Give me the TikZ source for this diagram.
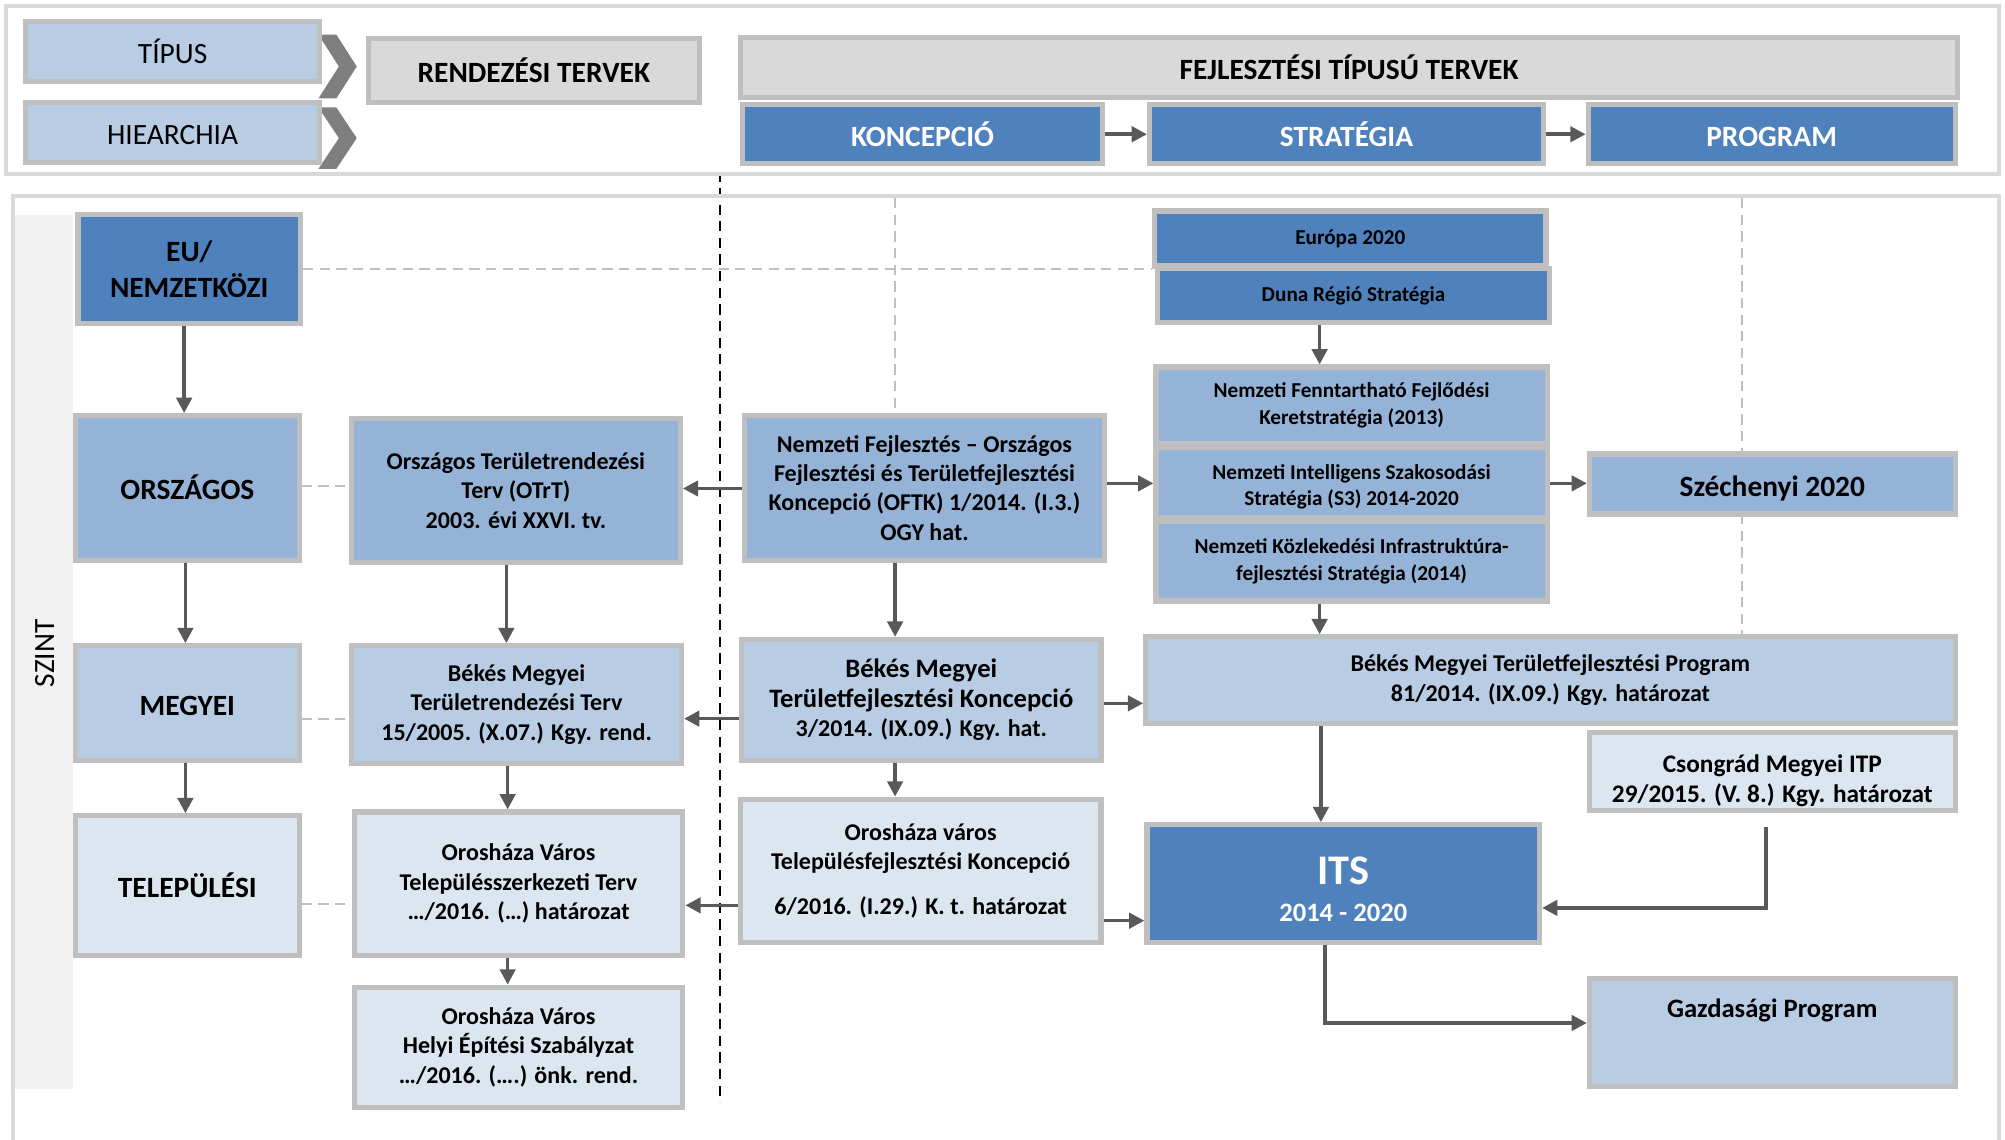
\documentclass[tikz,border=0pt]{standalone}
\usepackage{fontspec}
\setmainfont{Carlito}
\usetikzlibrary{arrows.meta}
\definecolor{dblue}{HTML}{4F81BD}
\definecolor{mblue}{HTML}{95B3D7}
\definecolor{lblue}{HTML}{B8CCE4}
\definecolor{xblue}{HTML}{DCE6F1}
\definecolor{lgray}{HTML}{D9D9D9}
\definecolor{bgray}{HTML}{BFBFBF}
\definecolor{agray}{HTML}{595959}
\definecolor{chev}{HTML}{7F7F7F}
\definecolor{strip}{HTML}{F2F2F2}
\newcommand\fszA{\fontsize{11.5}{14}\selectfont}
\newcommand\fszB{\fontsize{9.4}{11.5}\selectfont}
\newcommand\fszC{\fontsize{8.3}{10.5}\selectfont}
\newcommand\fszD{\fontsize{10.4}{12.5}\selectfont}
\newcommand\fszE{\fontsize{9.9}{12}\selectfont}
\newcommand\fszITS{\fontsize{16.5}{18}\selectfont}
\newcommand\mkbox[7]{\node[#2, minimum width={(#5-#3)*0.5pt}, minimum height={(#6-#4)*0.5pt}] (#1) at ({(#3+#5)/2},{(#4+#6)/2}) {#7};}
\pgfdeclarelayer{bg}
\pgfsetlayers{bg,main}
\begin{document}
\begin{tikzpicture}[x=0.5pt,y=-0.5pt,
  bx/.style={draw=bgray, line width=2pt, inner sep=1pt, align=center, text=black},
  hdr/.style={bx, font=\fszA, text height=9.5pt, text depth=0pt},
  hdrb/.style={bx, font=\bfseries\fszA, text height=9.5pt, text depth=0pt},
  lvl/.style={bx, font=\bfseries\fszA},
  lvlone/.style={bx, font=\bfseries\fszA, text height=9.5pt, text depth=0pt},
  txt/.style={bx, font=\bfseries\fszB},
  stx/.style={bx, font=\bfseries\fszC},
  arr/.style={draw=agray, line width=1.4pt, -{Triangle[length=6pt,width=6pt]}},
  dsh/.style={draw=bgray, line width=0.8pt, dash pattern=on 4pt off 2.5pt},
  frame/.style={draw=lgray, line width=1.5pt}]
\useasboundingbox (0,0) rectangle (1568,891);
% helper coordinates
\coordinate (c144) at (144,0);
\coordinate (c145) at (145,0);
\coordinate (c396) at (396,0);
\coordinate (c397) at (397,0);
\coordinate (c700) at (700,0);
\coordinate (c1032) at (1032,0);
\coordinate (c1033) at (1033,0);
\coordinate (c1036) at (1036,0);
\coordinate (c1362) at (1362,0);
\coordinate (c1381) at (1381,0);
\coordinate (r155) at (0,155);
\coordinate (r378) at (0,378);
\coordinate (r380) at (0,380);
\coordinate (r382) at (0,382);
\coordinate (r550) at (0,550);
\coordinate (r562) at (0,562);
\coordinate (r707) at (0,707);
\coordinate (r708) at (0,708);
\coordinate (r710) at (0,710);
\coordinate (r720) at (0,720);
\coordinate (r800) at (0,800);
% frames
\draw[frame, fill=white] (5,5) rectangle (1563,136);
\draw[frame] (10,900) -- (10,153) -- (1563,153) -- (1563,900);
\fill[strip] (12,168) rectangle (57,852);
\node[rotate=90, font=\fszA] (szint) at (35,511) {SZINT};
% chevrons
\fill[chev] (249,27) -- (263,27) -- (279,52) -- (263,77) -- (249,77) -- (265,52) -- cycle;
\fill[chev] (249,84) -- (263,84) -- (279,108) -- (263,132) -- (249,132) -- (265,108) -- cycle;
% header boxes
\mkbox{tipus}{hdr,fill=lblue}{20}{17}{250}{64}{TÍPUS}
\mkbox{hier}{hdr,fill=lblue}{20}{80}{250}{127}{HIEARCHIA}
\mkbox{rend}{hdrb,fill=lgray}{288}{30}{547}{80}{RENDEZÉSI TERVEK}
\mkbox{fejl}{hdrb,fill=lgray}{579}{29}{1531}{76}{FEJLESZTÉSI TÍPUSÚ TERVEK}
\mkbox{kon}{hdrb,fill=dblue,text=white}{581}{82}{862}{128}{KONCEPCIÓ}
\mkbox{str}{hdrb,fill=dblue,text=white}{899}{82}{1207}{128}{STRATÉGIA}
\mkbox{prog}{hdrb,fill=dblue,text=white}{1242}{82}{1529}{128}{PROGRAM}
% levels
\mkbox{eu}{lvl,fill=dblue}{61}{168}{235}{253}{EU/\\NEMZETKÖZI}
\mkbox{orsz}{lvlone,fill=mblue}{59}{325}{234}{438}{ORSZÁGOS}
\mkbox{meg}{lvlone,fill=lblue}{59}{505}{234}{595}{MEGYEI}
\mkbox{tel}{lvlone,fill=xblue}{59}{638}{234}{747}{TELEPÜLÉSI}
% rendezesi
\mkbox{otrt}{txt,fill=mblue}{275}{327}{532}{440}{Országos Területrendezési\\Terv (OTrT)\\2003. évi XXVI. tv.}
\mkbox{bmtt}{txt,fill=lblue}{275}{505}{533}{597}{Békés Megyei\\Területrendezési Terv\\15/2005. (X.07.) Kgy. rend.}
\mkbox{otsz}{txt,fill=xblue}{277}{635}{534}{747}{Orosháza Város\\Településszerkezeti Terv\\…/2016. (…) határozat}
\mkbox{hesz}{txt,fill=xblue}{277}{772}{534}{866}{Orosháza Város\\Helyi Építési Szabályzat\\…/2016. (….) önk. rend.}
% fejlesztesi
\mkbox{oftk}{txt,fill=mblue}{582}{325}{864}{438}{Nemzeti Fejlesztés – Országos\\Fejlesztési és Területfejlesztési\\Koncepció (OFTK) 1/2014. (I.3.)\\OGY hat.}
\mkbox{bmtk}{txt,fill=lblue}{580}{500}{861}{595}{\fszD Békés Megyei\\\fszD Területfejlesztési Koncepció\\\fszB 3/2014. (IX.09.) Kgy. hat.}
\mkbox{otfk}{txt,fill=xblue}{579}{625}{861}{737}{Orosháza város\\Településfejlesztési Koncepció\\[6pt]6/2016. (I.29.) K. t. határozat}
% strategia
\mkbox{eur}{stx,fill=dblue}{903}{165}{1209}{208}{Európa 2020}
\mkbox{duna}{stx,fill=dblue}{905}{210}{1212}{252}{Duna Régió Stratégia}
\mkbox{nffk}{stx,fill=mblue}{904}{287}{1210}{347}{Nemzeti Fenntartható Fejlődési\\Keretstratégia (2013)}
\mkbox{nis}{stx,fill=mblue}{904}{350}{1210}{405}{\rule{0pt}{9pt}Nemzeti Intelligens Szakosodási\\Stratégia (S3) 2014-2020}
\mkbox{nkifs}{stx,fill=mblue}{904}{408}{1210}{470}{Nemzeti Közlekedési Infrastruktúra-\\fejlesztési Stratégia (2014)}
\mkbox{sze}{hdrb,fill=mblue}{1243}{355}{1529}{402}{Széchenyi 2020}
\mkbox{bmtp}{txt,fill=lblue}{896}{498}{1529}{566}{Békés Megyei Területfejlesztési Program\\81/2014. (IX.09.) Kgy. határozat}
\mkbox{csong}{txt,fill=xblue,font=\bfseries\fszE}{1243}{573}{1529}{634}{\rule{0pt}{14pt}Csongrád Megyei ITP\\29/2015. (V. 8.) Kgy. határozat}
\mkbox{its}{txt,fill=dblue,text=white}{897}{645}{1204}{737}{{\fszITS\rule{0pt}{15.5pt}ITS}\\[3pt]\fszD 2014 - 2020}
\mkbox{gaz}{txt,fill=lblue,label={[font=\bfseries\fszD,yshift=8.5pt]center:Gazdasági Program}}{1243}{765}{1529}{850}{}
% background dashed lines
\begin{pgfonlayer}{bg}
\draw[black, line width=0.8pt, dash pattern=on 4pt off 2.5pt] (563,30) -- (563,862);
\draw[dsh] (c700 |- r155) -- (oftk.north -| c700);
\draw[dsh] (c1362 |- r155) -- (bmtp.north -| c1362);
\draw[dsh] (eu.east) -- (eu.east -| eur.west);
\draw[dsh] (orsz.east |- r380) -- (otrt.west |- r380);
\draw[dsh] (meg.east |- r562) -- (bmtt.west |- r562);
\draw[dsh] (tel.east |- r707) -- (otsz.west |- r707);
\end{pgfonlayer}
% arrows
\draw[arr] (kon.east) -- (str.west);
\draw[arr] (str.east) -- (prog.west);
\draw[arr] (eu.south -| c144) -- (orsz.north -| c144);
\draw[arr] (orsz.south -| c145) -- (meg.north -| c145);
\draw[arr] (meg.south -| c145) -- (tel.north -| c145);
\draw[arr] (otrt.south -| c396) -- (bmtt.north -| c396);
\draw[arr] (bmtt.south -| c397) -- (otsz.north -| c397);
\draw[arr] (otsz.south -| c397) -- (hesz.north -| c397);
\draw[arr] (oftk.west |- r382) -- (otrt.east |- r382);
\draw[arr] (oftk.east |- r378) -- (nis.west |- r378);
\draw[arr] (oftk.south -| c700) -- (bmtk.north -| c700);
\draw[arr] (bmtk.west |- r562) -- (bmtt.east |- r562);
\draw[arr] (bmtk.east |- r550) -- (bmtp.west |- r550);
\draw[arr] (bmtk.south -| c700) -- (otfk.north -| c700);
\draw[arr] (otfk.west |- r708) -- (otsz.east |- r708);
\draw[arr] (otfk.east |- r720) -- (its.west |- r720);
\draw[arr] (duna.south -| c1032) -- (nffk.north -| c1032);
\draw[arr] (nkifs.south -| c1032) -- (bmtp.north -| c1032);
\draw[arr] (nis.east |- r378) -- (sze.west |- r378);
\draw[arr] (bmtp.south -| c1033) -- (its.north -| c1033);
\draw[arr] (csong.south -| c1381) ++(0,11) |- (its.east |- r710);
\draw[arr] (its.south -| c1036) |- (gaz.west |- r800);
\end{tikzpicture}
\end{document}
